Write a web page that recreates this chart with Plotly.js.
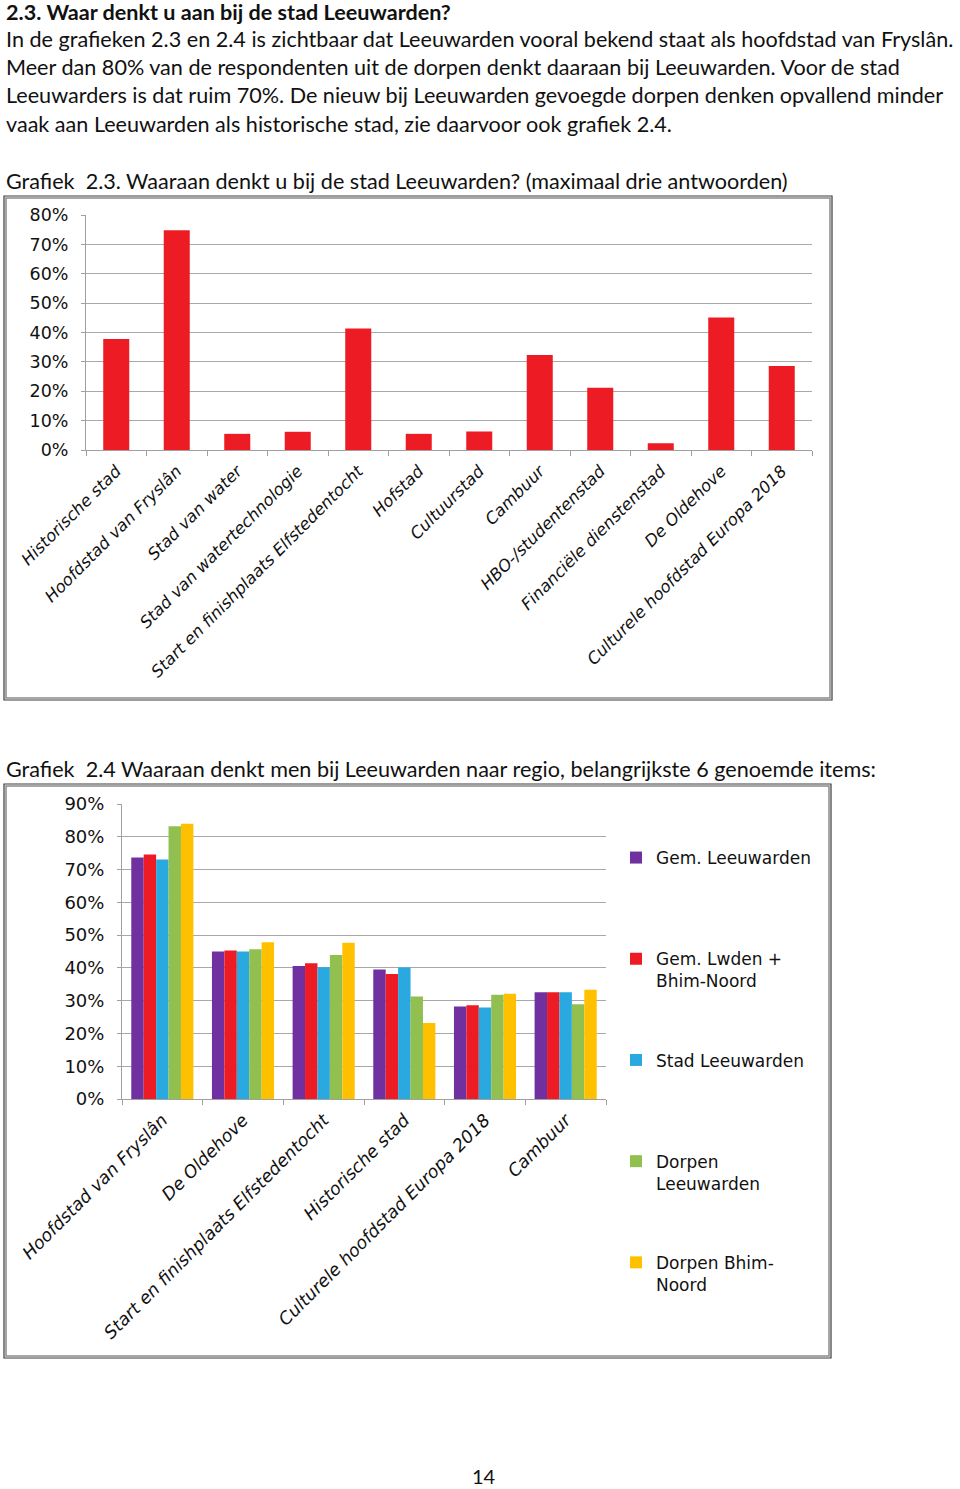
<!DOCTYPE html>
<html><head><meta charset="utf-8">
<script src="https://cdn.plot.ly/plotly-3.0.1.min.js"></script>
<style>html,body{margin:0;padding:0;background:#fff}#g{width:960px;height:1489px}</style>
</head><body><div id="g"></div>
<script>
// ---- Chart 2.3 data ----
const cats1 = ["Historische stad","Hoofdstad van Fryslân","Stad van water","Stad van watertechnologie","Start en finishplaats Elfstedentocht","Hofstad","Cultuurstad","Cambuur","HBO-/studentenstad","Financiële dienstenstad","De Oldehove","Culturele hoofdstad Europa 2018"];
const vals1 = [37.8, 74.8, 5.5, 6.2, 41.4, 5.5, 6.3, 32.3, 21.2, 2.3, 45.1, 28.6];
const ticks1 = [0,10,20,30,40,50,60,70,80];

// ---- Chart 2.4 data ----
const cats2 = ["Hoofdstad van Fryslân","De Oldehove","Start en finishplaats Elfstedentocht","Historische stad","Culturele hoofdstad Europa 2018","Cambuur"];
const seriesNames = ["Gem. Leeuwarden","Gem. Lwden +<br>Bhim-Noord","Stad Leeuwarden","Dorpen<br>Leeuwarden","Dorpen Bhim-<br>Noord"];
const gemLeeuwarden   = [73.7, 45.0, 40.6, 39.5, 28.2, 32.6];
const gemLwdenBhim    = [74.6, 45.3, 41.4, 38.1, 28.6, 32.6];
const stadLeeuwarden  = [73.1, 45.0, 40.2, 40.1, 27.9, 32.6];
const dorpenLeeuwarden= [83.2, 45.7, 43.9, 31.3, 31.8, 28.9];
const dorpenBhim      = [84.0, 47.8, 47.7, 23.2, 32.1, 33.3];
const ticks2 = [0,10,20,30,40,50,60,70,80,90];

// ---- page text ----
const heading = "2.3. Waar denkt u aan bij de stad Leeuwarden?";
const bodyLines = [
 "In de grafieken 2.3 en 2.4 is zichtbaar dat Leeuwarden vooral bekend staat als hoofdstad van Fryslân.",
 "Meer dan 80% van de respondenten uit de dorpen denkt daaraan bij Leeuwarden. Voor de stad",
 "Leeuwarders is dat ruim 70%. De nieuw bij Leeuwarden gevoegde dorpen denken opvallend minder",
 "vaak aan Leeuwarden als historische stad, zie daarvoor ook grafiek 2.4."
];
const caption1 = "Grafiek&nbsp; 2.3. Waaraan denkt u bij de stad Leeuwarden? (maximaal drie antwoorden)";
const caption2 = "Grafiek&nbsp; 2.4 Waaraan denkt men bij Leeuwarden naar regio, belangrijkste 6 genoemde items:";
const pageNo = "14";

const W = 960, H = 1489;
const px = x => x / W, py = y => 1 - y / H;
const colors = ["#7030A0","#ED1C24","#29A9E0","#92C050","#FFC000"];
const series2 = [gemLeeuwarden, gemLwdenBhim, stadLeeuwarden, dorpenLeeuwarden, dorpenBhim];
const TF = "Lato, 'Open Sans', sans-serif";
const CF = "'DejaVu Sans', Verdana, sans-serif";

const traces = [{
  type: "bar", x: cats1, y: vals1, xaxis: "x", yaxis: "y",
  marker: {color: "#ED1C24"}, width: 0.43, showlegend: false, hoverinfo: "x+y"
}];
series2.forEach((s, i) => {
  const nm = seriesNames[i].indexOf("<br>") >= 0 ? seriesNames[i] : seriesNames[i] + "<br>&nbsp;";
  traces.push({type: "bar", x: cats2, y: s, name: nm, xaxis: "x2", yaxis: "y2",
    marker: {color: colors[i]}, legendgroup: "g" + i});
});

const gridc = "#a8a8a8";
const axCommon = {showline: true, linecolor: "#a0a0a0", linewidth: 1, zeroline: false, fixedrange: true};

const annotations = [];
const textFont = {family: TF, size: 21.6, color: "#111"};
annotations.push({text: "<b>" + heading + "</b>", x: px(4), y: py(12), xref: "paper", yref: "paper",
  xanchor: "left", yanchor: "middle", showarrow: false, font: textFont});
const lineY = [39, 67, 95, 124];
bodyLines.forEach((t, i) => annotations.push({text: t, x: px(4), y: py(lineY[i]), xref: "paper", yref: "paper",
  xanchor: "left", yanchor: "middle", showarrow: false, font: textFont}));
annotations.push({text: caption1, x: px(4), y: py(181), xref: "paper", yref: "paper",
  xanchor: "left", yanchor: "middle", showarrow: false, font: textFont});
annotations.push({text: caption2, x: px(4), y: py(769), xref: "paper", yref: "paper",
  xanchor: "left", yanchor: "middle", showarrow: false, font: textFont});
annotations.push({text: pageNo, x: px(484), y: py(1476), xref: "paper", yref: "paper",
  xanchor: "center", yanchor: "middle", showarrow: false, font: {family: TF, size: 20, color: "#111"}});

const frame = (x0, y0, x1, y1) => [
  {type: "rect", xref: "paper", yref: "paper", x0: px(x0), x1: px(x1), y0: py(y0), y1: py(y1), line: {color: "#3a3a3a", width: 1.2}},
  {type: "rect", xref: "paper", yref: "paper", x0: px(x0 + 2), x1: px(x1 - 2), y0: py(y0 + 2), y1: py(y1 - 2), line: {color: "#8a8a8a", width: 1.5}}
];

const layout = {
  width: W, height: H, autosize: false,
  margin: {l: 0, r: 0, t: 0, b: 0, pad: 0},
  paper_bgcolor: "#fff", plot_bgcolor: "#fff",
  barmode: "group", bargap: 0.23, bargroupgap: 0,
  font: {family: CF, color: "#111"},
  xaxis: Object.assign({}, axCommon, {domain: [px(86), px(812)], anchor: "y", type: "category",
    ticks: "outside", tickson: "boundaries", ticklen: 5, tickcolor: "#a0a0a0", tickangle: -45,
    ticklabelstandoff: 4,
    tickfont: {family: CF, size: 16.5, style: "italic", color: "#111"}, showgrid: false}),
  yaxis: Object.assign({}, axCommon, {domain: [py(450), py(215)], anchor: "x", range: [0, 80],
    tickvals: ticks1, ticktext: ticks1.map(v => v + "%"), ticks: "outside", ticklen: 4, tickcolor: "#a0a0a0",
    ticklabelstandoff: 9,
    showgrid: true, gridcolor: gridc, gridwidth: 1, tickfont: {family: CF, size: 17.5, color: "#111"}}),
  xaxis2: Object.assign({}, axCommon, {domain: [px(122), px(606)], anchor: "y2", type: "category",
    ticks: "outside", tickson: "boundaries", ticklen: 5, tickcolor: "#a0a0a0", tickangle: -45,
    ticklabelstandoff: 3,
    tickfont: {family: CF, size: 17.5, style: "italic", color: "#111"}, showgrid: false}),
  yaxis2: Object.assign({}, axCommon, {domain: [py(1099), py(804)], anchor: "x2", range: [0, 90],
    tickvals: ticks2, ticktext: ticks2.map(v => v + "%"), ticks: "outside", ticklen: 4, tickcolor: "#a0a0a0",
    ticklabelstandoff: 9,
    showgrid: true, gridcolor: gridc, gridwidth: 1, tickfont: {family: CF, size: 18, color: "#111"}}),
  showlegend: true,
  legend: {x: px(616), y: py(840), xanchor: "left", yanchor: "top", traceorder: "grouped",
    tracegroupgap: 54, valign: "top", font: {family: CF, size: 17, color: "#111"},
    bgcolor: "rgba(0,0,0,0)", borderwidth: 0, itemclick: false, itemdoubleclick: false},
  annotations: annotations,
  shapes: [].concat(frame(4, 196, 832, 700), frame(4, 784, 831, 1358))
};

Plotly.newPlot("g", traces, layout, {displayModeBar: false, staticPlot: true});
</script></body></html>
